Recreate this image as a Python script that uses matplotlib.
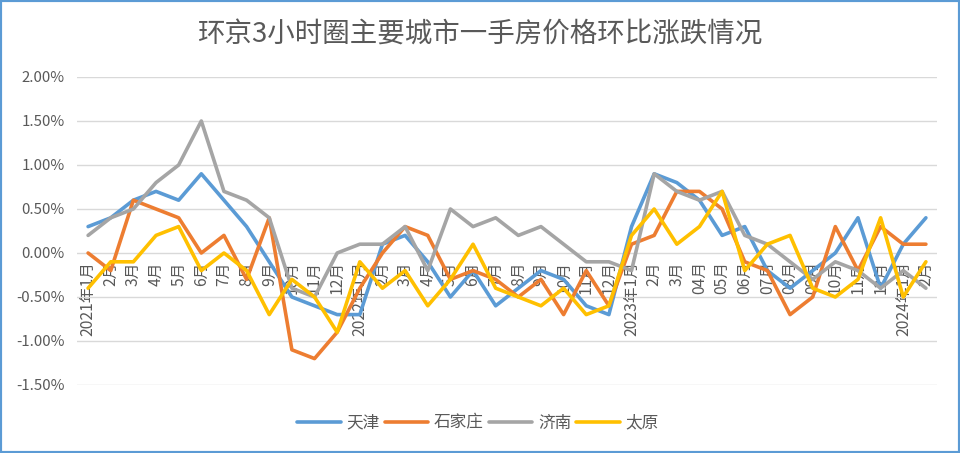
import matplotlib
matplotlib.use("Agg")
import matplotlib.pyplot as plt
import matplotlib.patches as patches
import numpy as np

plt.rcParams['font.family'] = ['Noto Sans CJK SC', 'DejaVu Sans']

# month labels, 2021-01 .. 2024-02
months = (["2021年1月"] + [f"{m}月" for m in range(2, 13)]
          + ["2022年1月"] + [f"{m}月" for m in range(2, 13)]
          + ["2023年1月", "2月", "3月", "04月", "05月", "06月", "07月", "08月",
             "09月", "10月", "11月", "12月"]
          + ["2024年1月", "2月"])

# month-on-month change, %
tianjin = [0.3, 0.4, 0.6, 0.7, 0.6, 0.9, 0.6, 0.3, -0.1, -0.5, -0.6, -0.7,
           -0.7, 0.1, 0.2, -0.1, -0.5, -0.2, -0.6, -0.4, -0.2, -0.3, -0.6, -0.7,
           0.3, 0.9, 0.8, 0.6, 0.2, 0.3, -0.2, -0.4, -0.2, 0.0, 0.4, -0.4,
           0.1, 0.4]
shijiazhuang = [0.0, -0.2, 0.6, 0.5, 0.4, 0.0, 0.2, -0.3, 0.4, -1.1, -1.2, -0.9,
                -0.4, 0.0, 0.3, 0.2, -0.3, -0.2, -0.3, -0.5, -0.3, -0.7, -0.2, -0.6,
                0.1, 0.2, 0.7, 0.7, 0.5, -0.1, -0.2, -0.7, -0.5, 0.3, -0.2, 0.3,
                0.1, 0.1]
jinan = [0.2, 0.4, 0.5, 0.8, 1.0, 1.5, 0.7, 0.6, 0.4, -0.4, -0.5, 0.0,
         0.1, 0.1, 0.3, -0.2, 0.5, 0.3, 0.4, 0.2, 0.3, 0.1, -0.1, -0.1,
         -0.2, 0.9, 0.7, 0.6, 0.7, 0.2, 0.1, -0.1, -0.3, -0.1, -0.2, -0.4,
         -0.2, -0.4]
taiyuan = [-0.4, -0.1, -0.1, 0.2, 0.3, -0.2, 0.0, -0.2, -0.7, -0.3, -0.5, -0.9,
           -0.1, -0.4, -0.2, -0.6, -0.3, 0.1, -0.4, -0.5, -0.6, -0.4, -0.7, -0.6,
           0.2, 0.5, 0.1, 0.3, 0.7, -0.2, 0.1, 0.2, -0.4, -0.5, -0.3, 0.4,
           -0.5, -0.1]

series = [("天津", tianjin, "#5B9BD5"),
          ("石家庄", shijiazhuang, "#ED7D31"),
          ("济南", jinan, "#A5A5A5"),
          ("太原", taiyuan, "#FFC000")]

fig = plt.figure(figsize=(9.6, 4.53), dpi=100)
ax = fig.add_axes([77 / 960, 68 / 453, 860 / 960, 308 / 453])

# category axis sits on the zero line, so move the spine first
# (moving it resets the ticks)
ax.spines['bottom'].set_position(('data', 0))
for s in ax.spines.values():
    s.set_color('none')

x = np.arange(len(months))
for name, vals, col in series:
    ax.plot(x, vals, color=col, lw=2.6, label=name, solid_joinstyle='round',
            solid_capstyle='round')

ax.set_xlim(-0.49, len(months) - 0.51)
ax.set_ylim(-1.5, 2.0)
yt = np.arange(-1.5, 2.01, 0.5)
ax.set_yticks(yt)
ax.set_yticklabels([f"{v:.2f}%" for v in yt], fontsize=10.8, color='#595959')
ax.yaxis.grid(True, color='#D9D9D9', lw=1.0)
ax.set_axisbelow(True)

ax.set_xticks(x)
ax.set_xticklabels(months, rotation=90, fontsize=11.3, color='#595959')
ax.tick_params(axis='x', length=0, pad=6)
ax.tick_params(axis='y', length=0, pad=9)

fig.text(0.5, 1 - 35 / 453, "环京3小时圈主要城市一手房价格环比涨跌情况",
         ha='center', va='center', fontsize=19.8, color='#595959')

fig.legend(loc='center', bbox_to_anchor=(0.498, 30 / 453), ncol=4, frameon=False,
           fontsize=12, handlelength=2.6, handletextpad=0.35, columnspacing=0.3,
           labelcolor='#595959')

# thin blue frame round the picture
fig.add_artist(patches.Rectangle((0, 0), 1, 1, transform=fig.transFigure,
                                 fill=False, edgecolor='#5B9BD5', lw=3))

fig.savefig("out.png", dpi=100)
